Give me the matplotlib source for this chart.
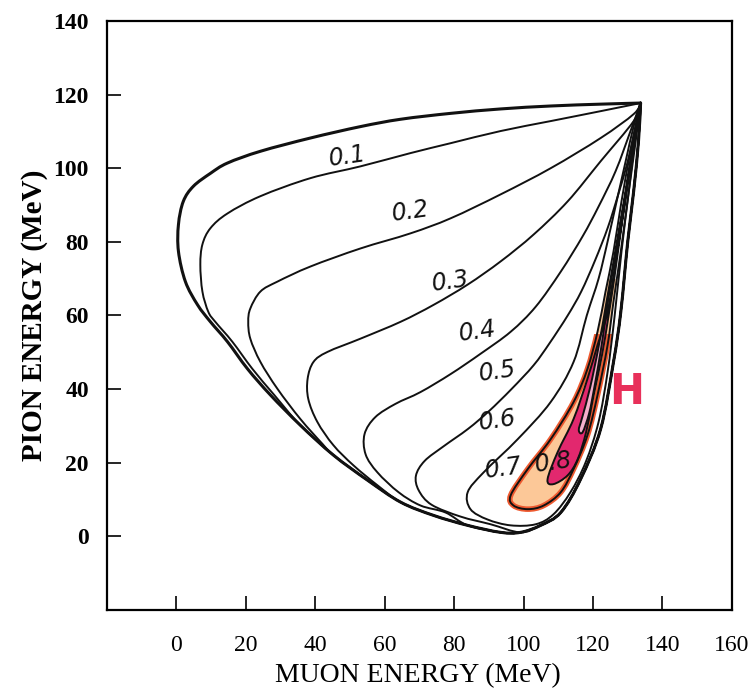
import numpy as np
import matplotlib.pyplot as plt
from matplotlib.patches import Rectangle, PathPatch
from matplotlib.path import Path

# kinematic boundary, apex -> round the left side -> bottom -> right side -> apex
outer_x = [133.7, 122.2, 107.8, 93.4, 79.0, 64.6, 53.0, 38.6, 24.2, 14.7, 9.8, 4.9, 2.0, 0.6,
           0.6, 2.6, 6.1, 9.8, 14.7, 20.5, 27.1, 35.7, 45.2, 55.0, 64.6, 74.1, 83.9, 93.4,
           99.1, 104.9, 110.7, 116.4, 122.2, 125.9, 128.0, 130.0, 131.7, 133.1, 133.7]
outer_y = [117.7, 117.4, 116.9, 116.1, 114.9, 113.3, 111.3, 108.2, 104.6, 101.4, 98.6, 95.1,
           91.0, 84.7, 77.4, 69.2, 62.9, 58.3, 52.9, 45.5, 38.4, 30.2, 22.1, 15.3, 9.3, 5.7,
           3.0, 1.1, 1.1, 3.0, 6.5, 15.5, 29.2, 47.4, 61.0, 80.1, 93.7, 107.4, 117.7]

# contours 0.1 - 0.5: upper branch from the apex until they run into the boundary
c1_x = [133.7, 122.2, 107.8, 93.4, 79.0, 67.4, 53.0, 38.6, 24.2, 14.7, 9.8, 7.5, 6.9, 7.5,
        9.2, 11.2, 16.1, 21.9, 28.2]
c1_y = [117.7, 115.5, 112.8, 110.1, 106.8, 104.1, 100.5, 97.3, 92.4, 87.7, 83.7, 79.3, 73.8,
        66.5, 61.0, 58.3, 52.9, 45.5, 38.4]
c2_x = [133.7, 131.7, 122.2, 107.8, 93.4, 79.0, 67.4, 53.0, 38.6, 29.1, 24.2, 21.3, 20.7,
        21.3, 24.2, 29.1, 35.7, 42.1]
c2_y = [117.7, 114.7, 108.2, 100.0, 92.9, 86.4, 82.3, 78.2, 73.3, 69.2, 66.5, 61.9, 58.3,
        53.7, 47.4, 40.1, 31.9, 25.1]
c3_x = [133.7, 131.7, 122.2, 112.7, 102.9, 93.4, 83.9, 74.1, 64.6, 53.0, 43.5, 39.5, 37.8,
        38.0, 40.6, 45.2, 51.0, 57.9]
c3_y = [117.7, 112.8, 101.9, 91.0, 82.0, 74.7, 68.4, 62.9, 58.3, 53.7, 50.1, 47.4, 42.8,
        37.3, 31.1, 24.8, 19.3, 13.9]
c4_x = [133.7, 130.8, 126.5, 121.6, 117.0, 110.7, 103.5, 96.3, 87.6, 79.0, 70.3, 63.1, 57.3,
        54.2, 54.5, 57.9, 64.0, 70.3, 77.5]
c4_y = [117.7, 110.1, 99.2, 89.6, 81.5, 71.9, 62.4, 55.6, 49.6, 44.1, 39.2, 36.0, 32.4,
        27.8, 22.3, 17.4, 12.0, 8.4, 6.5]
c5_x = [133.7, 131.9, 129.9, 127.3, 124.3, 120.6, 116.6, 112.7, 107.5, 102.9, 96.5, 90.0,
        84.0, 77.0, 71.5, 69.0, 69.8, 73.5, 81.8, 90.5]
c5_y = [117.7, 110.0, 101.5, 93.0, 84.0, 75.0, 66.5, 60.0, 52.5, 46.5, 40.0, 34.0, 29.2,
        24.5, 20.5, 16.5, 12.5, 8.6, 5.4, 3.3]
# index in the boundary where each of them joins it
join_at = [21, 22, 24, 26, 28]

# contours 0.6 - 0.9 are closed loops
c6_x = [133.7, 131.7, 129.4, 126.8, 124.2, 121.6, 118.2, 114.4, 107.8, 98.3, 88.5, 83.9,
        84.7, 89.6, 96.3, 103.5, 108.6, 113.5, 117.9, 121.6, 124.2, 126.2, 128.2, 130.3,
        132.0, 133.7]
c6_y = [117.7, 111.4, 101.9, 91.0, 80.1, 70.0, 60.0, 47.4, 36.5, 26.4, 17.4, 12.0, 7.4, 4.6,
        3.0, 3.3, 6.0, 12.0, 20.2, 31.1, 44.7, 59.7, 77.4, 93.7, 107.4, 117.7]
c7_x = [133.7, 130.8, 128.2, 125.9, 123.6, 121.3, 118.4, 114.4, 107.8, 101.2, 96.3, 97.1,
        101.2, 105.8, 110.7, 114.4, 118.4, 121.3, 124.2, 125.9, 128.0, 130.3, 132.3, 133.7]
c7_y = [117.7, 104.6, 91.0, 77.4, 66.5, 55.6, 45.5, 36.5, 26.4, 18.3, 11.2, 8.4, 7.4, 8.4,
        12.0, 18.3, 27.5, 38.4, 52.0, 63.8, 77.4, 93.7, 107.4, 117.7]
c8_x = [133.7, 130.8, 128.8, 126.5, 124.2, 121.3, 118.4, 114.4, 109.8, 106.9, 108.6, 112.7,
        115.6, 118.0, 120.2, 122.6, 124.2, 126.2, 128.4, 131.0, 133.7]
c8_y = [117.7, 101.9, 88.3, 74.7, 61.0, 52.0, 42.8, 31.9, 22.9, 15.5, 14.2, 16.6, 21.0,
        28.3, 38.4, 49.3, 58.3, 70.6, 85.6, 101.9, 117.7]
c9_x = [133.7, 131.2, 128.9, 126.4, 123.9, 121.6, 119.2, 116.9, 115.9, 117.0, 118.9, 120.4,
        122.4, 124.3, 126.6, 129.0, 131.4, 133.7]
c9_y = [117.7, 104.6, 91.0, 77.4, 63.8, 51.5, 40.6, 32.4, 28.9, 28.3, 33.5, 40.6, 51.5,
        63.8, 77.4, 91.0, 104.6, 117.7]

levels = ['0.1', '0.2', '0.3', '0.4', '0.5', '0.6', '0.7', '0.8']
label_x = [49.3, 67.4, 79.0, 86.7, 92.5, 92.5, 94.2, 108.6]
label_y = [103.3, 88.3, 69.2, 55.6, 44.7, 31.6, 18.5, 20.2]


def smooth(x, y):
    # smooth curve through the traced points (cubic bezier pieces)
    p = np.column_stack([x, y]).astype(float)
    n = len(p)
    verts, codes = [p[0]], [Path.MOVETO]
    for i in range(n - 1):
        a = p[max(i - 1, 0)]
        d = p[min(i + 2, n - 1)]
        verts += [p[i] + (p[i + 1] - a) / 6, p[i + 1] - (d - p[i]) / 6, p[i + 1]]
        codes += [Path.CURVE4] * 3
    return Path(verts, codes)


def line(ax, x, y, lw=1.4, color='#111111', z=5, clip=None):
    pp = PathPatch(smooth(x, y), fc='none', ec=color, lw=lw, zorder=z,
                   joinstyle='round', capstyle='round')
    ax.add_patch(pp)
    if clip is not None:
        pp.set_clip_path(Rectangle((-20, -20), 200, clip + 20, transform=ax.transData))
    return pp


def area(ax, x, y, color, z, clip=None):
    pp = PathPatch(smooth(x, y), fc=color, ec='none', zorder=z)
    ax.add_patch(pp)
    if clip is not None:
        pp.set_clip_path(Rectangle((-20, -20), 200, clip + 20, transform=ax.transData))


fig = plt.figure(figsize=(7.53, 6.98), dpi=100)
ax = fig.add_axes([0.142, 0.126, 0.830, 0.844])

# hand-coloured highlight
area(ax, c7_x, c7_y, '#fcc898', 1, clip=70)
line(ax, c7_x, c7_y, lw=4, color='#ee5a30', z=2, clip=55)
area(ax, c8_x, c8_y, '#e2286e', 2, clip=80)
area(ax, c9_x, c9_y, '#f4b0cc', 3, clip=80)

line(ax, outer_x, outer_y, lw=2.2)
for cx, cy, j in zip([c1_x, c2_x, c3_x, c4_x, c5_x], [c1_y, c2_y, c3_y, c4_y, c5_y], join_at):
    line(ax, cx + outer_x[j:], cy + outer_y[j:])
for cx, cy in [(c6_x, c6_y), (c7_x, c7_y), (c8_x, c8_y), (c9_x, c9_y)]:
    line(ax, cx, cy)

for t, x, y in zip(levels, label_x, label_y):
    ax.text(x, y, t, fontsize=17, style='italic', ha='center', va='center',
            rotation=8, color='#111111', zorder=6)
ax.text(129.7, 39.2, 'H', fontsize=30, fontweight='bold', color='#e8305a',
        ha='center', va='center')

ax.set_xlim(-20, 160)
ax.set_ylim(-20, 140)
ax.set_xticks(range(0, 161, 20))
ax.set_yticks(range(0, 141, 20))
ax.tick_params(direction='in', length=10, width=1.2, top=False, right=False)
ax.tick_params(axis='x', pad=18)
ax.tick_params(axis='y', pad=13)
for s in ax.spines.values():
    s.set_linewidth(1.6)
for t in ax.get_xticklabels():
    t.set_fontfamily('Liberation Serif')
    t.set_fontsize(17)
for t in ax.get_yticklabels():
    t.set_fontfamily('Liberation Serif')
    t.set_fontsize(17)
    t.set_fontweight('bold')

ax.set_xlabel('MUON ENERGY (MeV)', fontsize=20, family='Liberation Serif')
ax.set_ylabel('PION ENERGY (MeV)', fontsize=21, family='Liberation Serif', fontweight='bold')
ax.xaxis.set_label_coords(0.498, -0.09)
ax.yaxis.set_label_coords(-0.095, 0.5)

fig.savefig('out.png', dpi=100)
